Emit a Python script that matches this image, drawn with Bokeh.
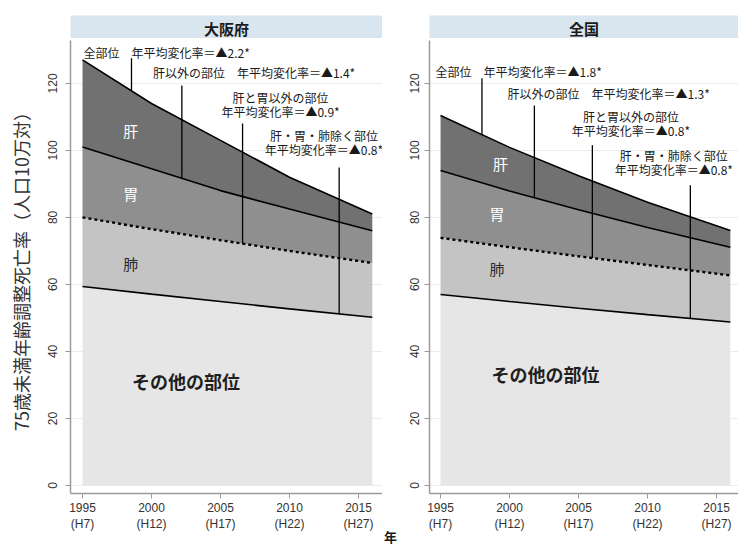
import numpy as np
from bokeh.plotting import figure
from bokeh.layouts import row, column
from bokeh.models import FixedTicker
from bokeh.embed import file_html
from bokeh.resources import INLINE
from bokeh.core.properties import value

# ---------------- data ----------------
years = [1995, 2000, 2005, 2010, 2016]

osaka_all = [127.0, 114.0, 103.0, 92.0, 81.0]          # 全部位
osaka_exliver = [101.0, 94.5, 88.0, 82.5, 76.0]        # 肝以外の部位
osaka_exlivstom = [80.0, 76.5, 73.2, 70.0, 66.4]       # 肝と胃以外の部位
osaka_other = [59.4, 57.1, 54.9, 52.7, 50.2]           # 肝・胃・肺除く部位

japan_all = [110.4, 100.9, 92.4, 84.5, 76.1]
japan_exliver = [94.0, 87.9, 82.3, 77.0, 71.1]
japan_exlivstom = [73.9, 71.1, 68.4, 65.8, 62.7]
japan_other = [57.0, 54.9, 52.9, 51.0, 48.8]

osaka_rates = ["2.2", "1.4", "0.9", "0.8"]
japan_rates = ["1.8", "1.3", "0.8", "0.8"]

panel_titles = ["大阪府", "全国"]
region_names = ["肝", "胃", "肺", "その他の部位"]

xticks = [1995, 2000, 2005, 2010, 2015]
xtick_labels = ["1995\n(H7)", "2000\n(H12)", "2005\n(H17)", "2010\n(H22)", "2015\n(H27)"]
yticks = [0, 20, 40, 60, 80, 100, 120]

ylabel = "75歳未満年齢調整死亡率（人口10万対）"
xlabel = "年"

# ---------------- styling / layout ----------------
JP = "Noto Sans CJK JP"
LAT = "Liberation Sans"
C_LIVER, C_STOM, C_LUNG, C_OTHER = "#717171", "#8f8f8f", "#c4c4c4", "#e6e6e6"
STRIP = "#d9e6ef"
AXIS = "#9a9a9a"
YR = (-2.4, 132.8)

# annotation layout (x of pointer, top of pointer, label anchor, region label anchor)
osaka_ann = dict(
    ptr_x=[1998.55, 2002.2, 2006.6, 2013.6],
    ptr_top=[127.5, 119.4, 108.0, 94.9],
    lab1=[(1995.07, 129.3, "left"), (2000.1, 123.3, "left"), (2009.35, 115.8, "center"), (2012.5, 104.5, "center")],
    region=[(1998.5, 106.0), (1998.5, 87.0), (1998.5, 66.3), (2002.5, 31.3)],
)
japan_ann = dict(
    ptr_x=[1998.0, 2001.8, 2006.0, 2013.1],
    ptr_top=[121.5, 113.4, 101.5, 89.6],
    lab1=[(1994.64, 123.6, "left"), (1999.86, 117.0, "left"), (2008.8, 110.1, "center"), (2011.9, 98.5, "center")],
    region=[(1999.35, 96.1), (1999.1, 81.2), (1999.1, 64.8), (2002.6, 33.4)],
)

H_HEAD = 38     # header figure height (strip from 15 to 38)
H_MAIN = 509    # main figure height


def header(title, width, left, right):
    h = figure(width=width, height=H_HEAD, x_range=(0, 1), y_range=(0, 1),
               toolbar_location=None, output_backend="svg",
               x_axis_location=None, y_axis_location=None,
               min_border_left=left, min_border_right=right,
               min_border_top=15, min_border_bottom=0)
    h.grid.visible = False
    h.outline_line_color = None
    h.background_fill_color = STRIP
    h.border_fill_color = "white"
    h.text(x=[0.5], y=[0.45], text=[title], text_align="center", text_baseline="middle",
           text_font=value(JP), text_font_size="15px", text_font_style="bold",
           text_color="#1a1a1a")
    return h


def panel(width, left, right, xr, curves, rates, ann, show_label, y_standoff):
    c_all, c_exl, c_exls, c_oth = curves
    p = figure(width=width, height=H_MAIN, x_range=xr, y_range=YR,
               toolbar_location=None, output_backend="svg",
               min_border_left=left, min_border_right=right,
               min_border_top=2, min_border_bottom=54)
    p.outline_line_color = None
    p.background_fill_color = "white"
    p.xgrid.visible = False
    p.ygrid.ticker = FixedTicker(ticks=yticks)
    p.ygrid.grid_line_color = "#ececec"

    # stacked bands
    p.varea(x=years, y1=[0] * len(years), y2=c_oth, fill_color=C_OTHER)
    p.varea(x=years, y1=c_oth, y2=c_exls, fill_color=C_LUNG)
    p.varea(x=years, y1=c_exls, y2=c_exl, fill_color=C_STOM)
    p.varea(x=years, y1=c_exl, y2=c_all, fill_color=C_LIVER)

    p.line(years, c_all, line_color="black", line_width=1.6)
    p.line(years, c_exl, line_color="black", line_width=1.6)
    p.line(years, c_exls, line_color="black", line_width=2.4, line_dash="3 3")
    p.line(years, c_oth, line_color="black", line_width=1.6)

    # pointer lines down to each curve
    targets = [c_all, c_exl, c_exls, c_oth]
    y_end = [float(np.interp(x, years, t)) for x, t in zip(ann["ptr_x"], targets)]
    p.segment(x0=ann["ptr_x"], y0=ann["ptr_top"], x1=ann["ptr_x"], y1=y_end,
              line_color="black", line_width=1.3)

    names = ["全部位", "肝以外の部位", "肝と胃以外の部位", "肝・胃・肺除く部位"]
    txt_kw = dict(text_font=value(JP), text_font_size="12px", text_color="#1a1a1a",
                  text_baseline="middle")
    for i, (name, rate, (lx, ly, al)) in enumerate(zip(names, rates, ann["lab1"])):
        if i < 2:
            p.text(x=[lx], y=[ly], text=[f"{name}　年平均変化率＝▲{rate}*"], text_align=al, **txt_kw)
        else:
            p.text(x=[lx], y=[ly], text=[name], text_align=al, **txt_kw)
            p.text(x=[lx], y=[ly - 4.3], text=[f"年平均変化率＝▲{rate}*"], text_align=al, **txt_kw)

    # region names
    reg_cols = ["white", "white", "#2a2a2a", "#1f1f1f"]
    reg_size = ["15px", "15px", "15px", "18px"]
    reg_style = ["normal", "normal", "normal", "bold"]
    for nm, (rx, ry), col, sz, st in zip(region_names, ann["region"], reg_cols, reg_size, reg_style):
        p.text(x=[rx], y=[ry], text=[nm], text_align="center", text_baseline="middle",
               text_font=value(JP), text_font_size=sz, text_color=col, text_font_style=st)

    # axes
    p.xaxis.ticker = FixedTicker(ticks=xticks)
    p.xaxis.major_label_overrides = dict(zip(xticks, xtick_labels))
    p.yaxis.ticker = FixedTicker(ticks=yticks)
    p.yaxis.major_label_orientation = "vertical"
    for ax in (p.xaxis[0], p.yaxis[0]):
        ax.axis_line_color = AXIS
        ax.axis_line_width = 1.5
        ax.major_tick_line_color = AXIS
        ax.major_tick_in = 0
        ax.major_tick_out = 5
        ax.minor_tick_line_color = None
        ax.major_label_text_font = LAT
        ax.major_label_text_font_size = "12px"
        ax.major_label_text_color = "#333333"
    p.xaxis.major_label_standoff = 2
    p.yaxis.major_label_standoff = y_standoff
    if show_label:
        p.yaxis.axis_label = ylabel
        p.yaxis.axis_label_text_font = JP
        p.yaxis.axis_label_text_font_size = "18px"
        p.yaxis.axis_label_text_font_style = "normal"
        p.yaxis.axis_label_text_color = "#333333"
        p.yaxis.axis_label_standoff = 12
    return p


# left panel: canvas 0..382 (frame 70..382)
pL = panel(382, 70, 0, (1994.13, 2016.74),
           (osaka_all, osaka_exliver, osaka_exlivstom, osaka_other), osaka_rates, osaka_ann, True, 8)
# right panel: canvas 398..738 (frame 429..738)
pR = panel(340, 31, 0, (1994.2, 2016.59),
           (japan_all, japan_exliver, japan_exlivstom, japan_other), japan_rates, japan_ann, False, 5)

hL = header(panel_titles[0], 382, 70, 0)
hR = header(panel_titles[1], 340, 31, 0)

# narrow middle strip carrying the shared x-axis title "年"
mid = figure(width=16, height=H_HEAD + H_MAIN, x_range=(0, 1), y_range=(0, H_HEAD + H_MAIN),
             toolbar_location=None, output_backend="svg",
             x_axis_location=None, y_axis_location=None,
             min_border_left=0, min_border_right=0, min_border_top=0, min_border_bottom=0)
mid.grid.visible = False
mid.outline_line_color = None
mid.background_fill_color = "white"
mid.border_fill_color = "white"
mid.text(x=[0.5], y=[11], text=[xlabel], text_align="center", text_baseline="middle",
         text_font=value(JP), text_font_size="13px", text_font_style="bold", text_color="#1a1a1a")

layout = row(column(hL, pL, spacing=0), mid, column(hR, pR, spacing=0), spacing=0)

open("out.html", "w").write(file_html(layout, INLINE))
